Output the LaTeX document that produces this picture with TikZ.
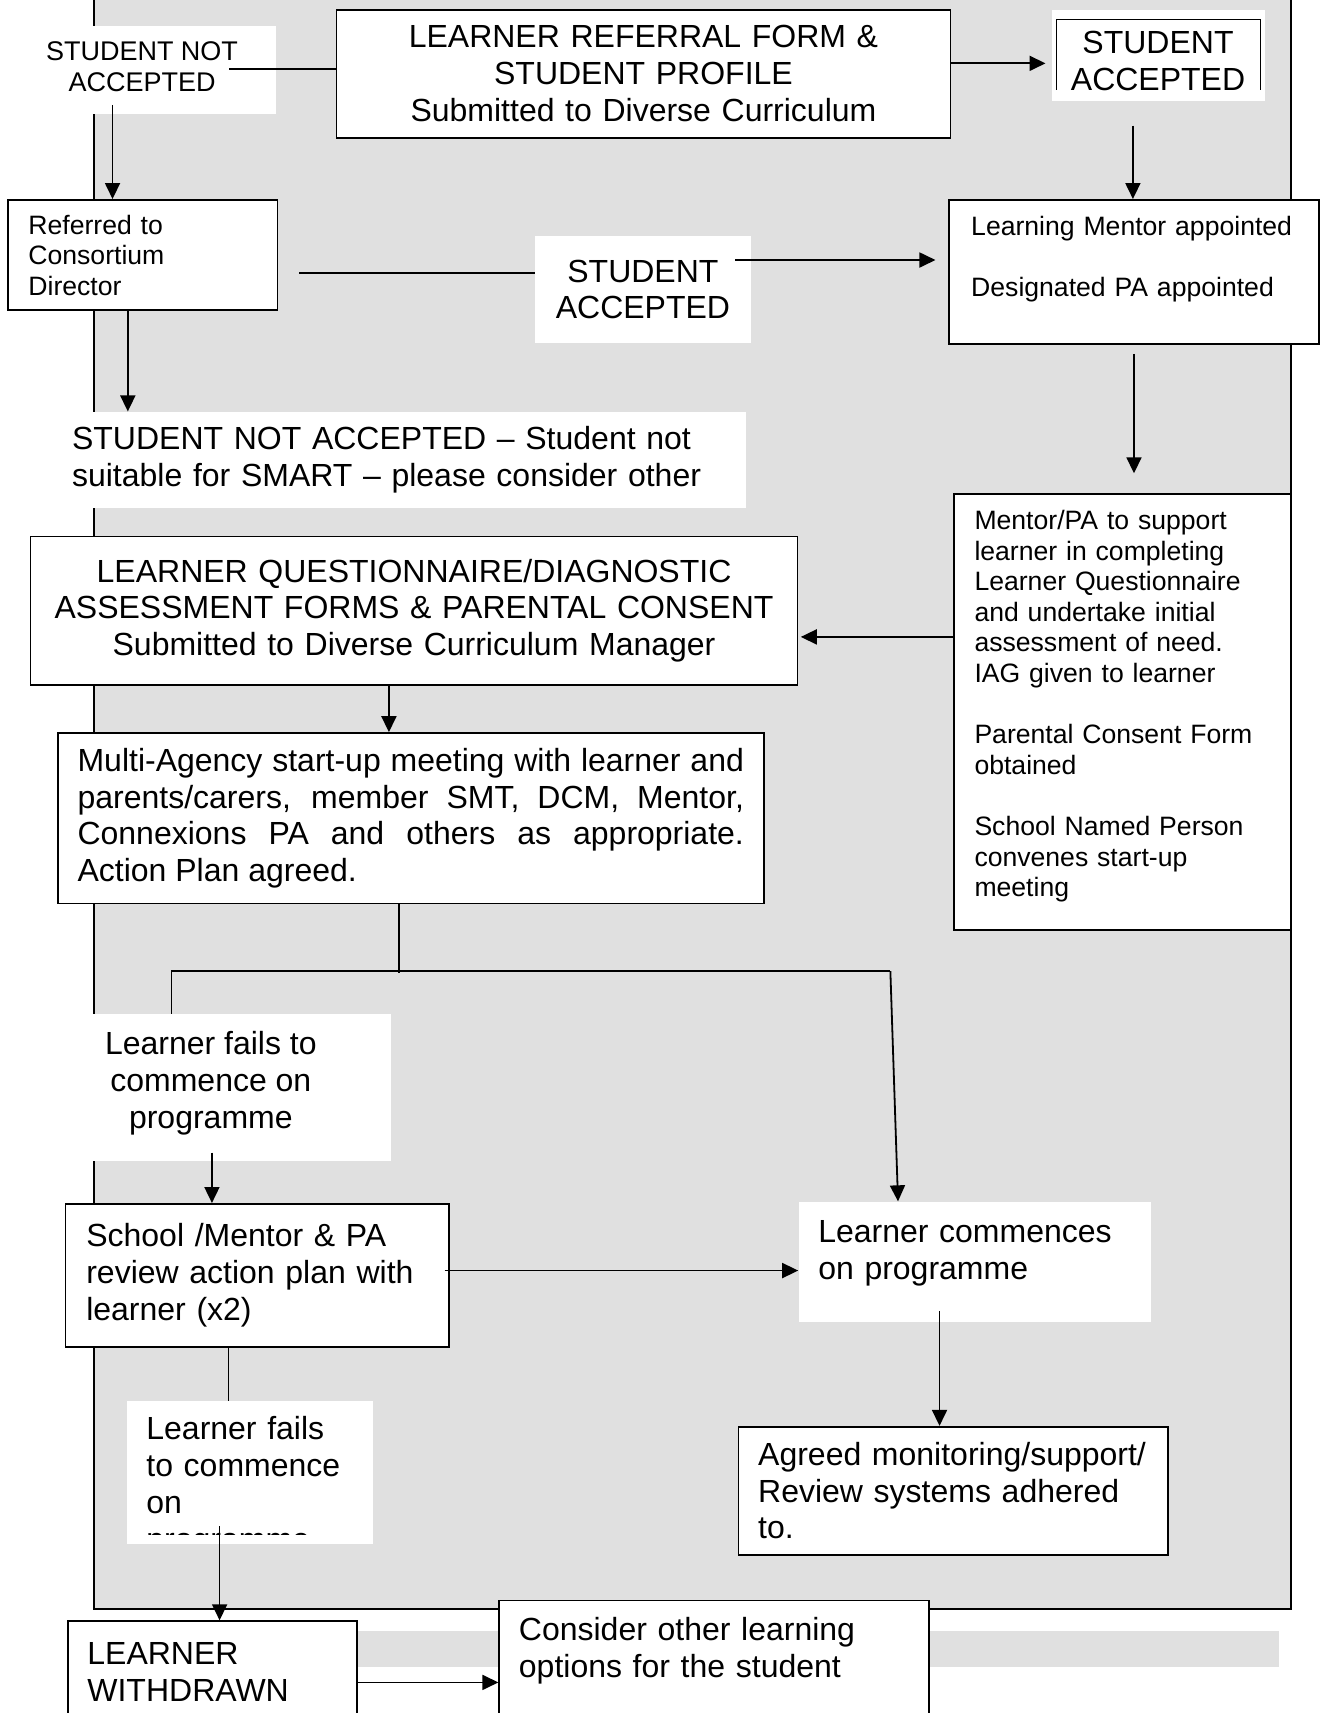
\documentclass[tikz,border=0pt]{standalone}
\usepackage{fontspec}
\setmainfont{Liberation Sans}
\usepackage{tikz}
\usetikzlibrary{arrows.meta}

\definecolor{bggray}{RGB}{224,224,224}
\newlength\pxu
\setlength\pxu{0.5463pt}

\tikzset{
box/.style={draw, fill=white, line width=0.9pt, inner sep=0pt},
patch/.style={fill=white, inner sep=0pt},
big/.style={font=\fontsize{16pt}{18.4pt}\selectfont},
small/.style={font=\fontsize{13.3pt}{15.3pt}\selectfont},
conn/.style={line width=0.9pt},
arr/.style={conn, -{Triangle[length=8pt,width=7.5pt]}}
}

\begin{document}
\begin{tikzpicture}[x=0.5463pt, y=-0.5463pt]

\useasboundingbox (0,0) rectangle (1209,1568);
\clip (0,0) rectangle (1209,1568);

\fill[bggray] (86,-10) rectangle (1182,1473);
\draw[line width=1pt] (86,-10) |- (1182,1473) -- (1182,-10);
\fill[bggray] (328,1493) rectangle (1171,1526);

\fill[white] (26,24) rectangle (253,104);
\fill[white] (963,9) rectangle (1158,92);
\fill[white] (84,928) rectangle (358,1063);
\fill[white] (731,1100) rectangle (1054,1210);
\fill[white] (116,1282) rectangle (341,1413);
\draw[line width=0.5pt] (967,82) |- (1154,18) -- (1154,82);

\node[box, big, minimum width=562\pxu, minimum height=117\pxu, text width=540\pxu, align=center] (ref) at (589,67.5) {LEARNER REFERRAL FORM \&\\STUDENT PROFILE\\Submitted to Diverse Curriculum};
\node[font=\fontsize{13.5pt}{15.8pt}\selectfont, align=center, inner sep=0pt] (notacc1) at (130,61) {STUDENT NOT\\ACCEPTED};
\node[big, align=center, inner sep=0pt] (acc1) at (1060,56) {STUDENT\\ACCEPTED};

\node[box, small, minimum width=247\pxu, minimum height=101\pxu, text width=209\pxu, align=left] (refd) at (130.5,233.5) {Referred to\\Consortium\\Director};
\node[patch, big, minimum width=197\pxu, minimum height=98\pxu, align=center] (acc2) at (588.5,265) {STUDENT\\ACCEPTED};
\node[box, small, minimum width=338\pxu, minimum height=132\pxu, text width=298\pxu, align=left] (lm) at (1038,249) {Learning Mentor appointed\\[15.3pt]Designated PA appointed\\ \mbox{}};

\node[patch, big, minimum width=623\pxu, minimum height=88\pxu, text width=611\pxu, align=left] (notacc2) at (371.5,421) {STUDENT NOT ACCEPTED – Student not\\suitable for SMART – please consider other};
\node[box, small, minimum width=309\pxu, minimum height=399\pxu, text width=271\pxu, align=left] (mp) at (1027.5,651.5) {Mentor/PA to support\\learner in completing\\Learner Questionnaire\\and undertake initial\\assessment of need.\\IAG given to learner\\[15.3pt]Parental Consent Form\\obtained\\[15.3pt]School Named Person\\convenes start-up\\meeting\\[-7pt]\mbox{}};
\node[box, big, minimum width=702\pxu, minimum height=136\pxu, text width=680\pxu, align=center] (lq) at (379,559) {LEARNER QUESTIONNAIRE/DIAGNOSTIC\\ASSESSMENT FORMS \& PARENTAL CONSENT\\Submitted to Diverse Curriculum Manager};
\node[box, big, minimum width=646\pxu, minimum height=156\pxu, text width=610\pxu, align=justify] (ma) at (376,749) {Multi-Agency start-up meeting with learner and\linebreak parents/carers, member SMT, DCM, Mentor,\linebreak Connexions PA and others as appropriate.\linebreak Action Plan agreed.};

\node[big, align=center, inner sep=0pt] (lf1) at (193,991.5) {Learner fails to\\commence on\\programme};
\node[box, big, minimum width=351\pxu, minimum height=131\pxu, text width=313\pxu, align=left] (sm) at (235.5,1167.5) {School /Mentor \& PA\\review action plan with\\learner (x2)};
\node[big, minimum width=323\pxu, minimum height=94\pxu, text width=287\pxu, align=left, inner sep=0pt] (lc) at (892.5,1147) {Learner commences\\on programme};
\node[box, big, minimum width=393\pxu, minimum height=117\pxu, text width=357\pxu, align=left] (ag) at (872.5,1364.5) {Agreed monitoring/support/\\Review systems adhered\\to.};

\begin{scope}
\clip (116,1282) rectangle (341,1405);
\node[big, text width=207\pxu, align=left, inner sep=0pt] (lf2) at (237.5,1361) {Learner fails\\to commence\\on\\programme};
\end{scope}

\node[box, big, minimum width=265\pxu, minimum height=93\pxu, text width=229\pxu, align=left] (wd) at (194.5,1530.5) {LEARNER\\WITHDRAWN};
\node[box, big, minimum width=393\pxu, minimum height=120\pxu, text width=357\pxu, align=left] (co) at (653.5,1525) {Consider other learning\\options for the student\\ \mbox{}};

\coordinate (c0) at (210,63);
\coordinate (c1) at (103,96);
\coordinate (c2) at (957,58);
\coordinate (c3) at (1037,115);
\coordinate (c4) at (274,250);
\coordinate (c5) at (673,238);
\coordinate (c6) at (733,583);
\coordinate (c7) at (356,627);
\coordinate (c8) at (194,1055);
\coordinate (c9) at (860,1200);
\coordinate (c10) at (209,1282);
\coordinate (c11) at (201,1397);
\coordinate (c12) at (457,1540);
\coordinate (c13) at (117,284);
\coordinate (c14) at (407,1163);
\coordinate (j1) at (365,891);
\coordinate (j3) at (815,889);
\coordinate (j4) at (157,928);
\coordinate (k1) at (822,1100);

\draw[conn] (c0 -| ref.west) -- (c0);
\draw[arr] (c1) -- (c1 |- refd.north);
\draw[arr] (c2 -| ref.east) -- (c2);
\draw[arr] (c3) -- (c3 |- lm.north);
\draw[conn] (c4) -- (c4 -| acc2.west);
\draw[arr, shorten >=6.5pt] (c5) -- (c5 -| lm.west);
\draw[arr, shorten <=4.4pt, shorten >=9.8pt] (lm.south) -- (lm.south |- mp.north);
\draw[arr] (c13) -- (c13 |- notacc2.north);
\draw[arr] (c6 -| mp.west) -- (c6);
\draw[arr] (c7) -- (c7 |- ma.north);
\draw[conn] (j1 |- ma.south) -- (j1);
\draw[conn] (j4) |- (j3);
\draw[arr] (j3) -- (k1 |- lc.north);
\draw[arr] (c8) -- (c8 |- sm.north);
\draw[arr] (c14) -- (c14 -| lc.west);
\draw[arr] (c9) -- (c9 |- ag.north);
\draw[line width=0.5pt] (c10 |- sm.south) -- (c10);
\draw[arr] (c11) -- (c11 |- wd.north);
\draw[arr] (c12 -| wd.east) -- (c12 -| co.west);

\end{tikzpicture}
\end{document}
